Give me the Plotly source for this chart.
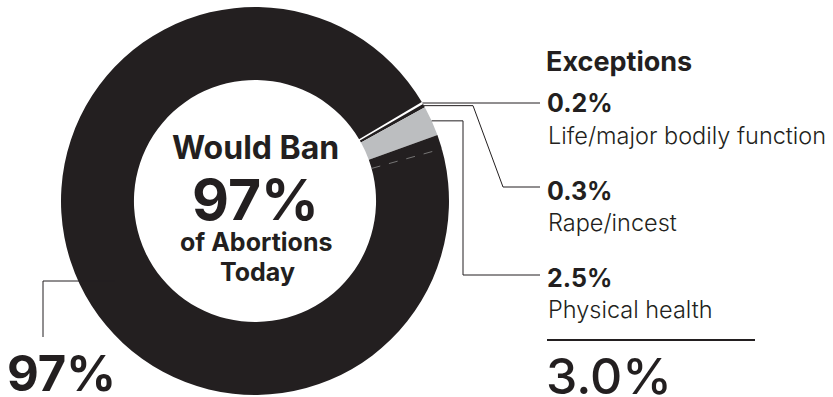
import math
import plotly.graph_objects as go

# ---------------- data ----------------
slice_labels = ["Life/major bodily function", "Rape/incest", "Physical health", "No exception"]
slice_values = [0.2, 0.3, 2.5, 97.0]
value_texts = ["0.2%", "0.3%", "2.5%"]
exception_names = ["Life/major bodily function", "Rape/incest", "Physical health"]
exceptions_total = "3.0%"
ban_share = "97%"
center_lines = ["Would Ban", "97%", "of Abortions", "Today"]

# ---------------- layout constants ----------------
W, H = 833, 397
CX, CY, R = 255, 201, 194
HOLE = 0.624
ROTATION = 59.3
SLICE_COLORS = ["#ffffff", "#231f20", "#bcbec0", "#231f20"]
INK = "#231f20"
FONT = "Inter"


def px(x):
    return x / W


def py(y):
    return 1 - y / H


fig = go.Figure(
    go.Pie(
        values=slice_values,
        labels=slice_labels,
        marker=dict(colors=SLICE_COLORS, line=dict(width=0)),
        hole=HOLE,
        sort=False,
        direction="clockwise",
        rotation=ROTATION,
        textinfo="none",
        hoverinfo="skip",
        showlegend=False,
        domain=dict(x=[px(CX - R), px(CX + R)], y=[py(CY + R), py(CY - R)]),
    )
)

# slice mid-angle points on the outer edge
total = sum(slice_values)
mids = []
cum = 0
for v in slice_values:
    a = math.radians(ROTATION + (cum + v / 2) / total * 360)
    mids.append((CX + R * math.sin(a), CY - R * math.cos(a)))
    cum += v

shapes = []


def path(points, width=1, color=INK, dash=None):
    d = "M " + " L ".join(f"{px(x)},{py(y)}" for x, y in points)
    line = dict(color=color, width=width)
    if dash:
        line["dash"] = dash
    shapes.append(dict(type="path", path=d, xref="paper", yref="paper", line=line))


LABEL_X = 540
# leader lines
x0, y0 = mids[0]
path([(x0, y0), (LABEL_X, y0)])
x1, y1 = mids[1]
path([(x1, y1), (473, y1), (503, 187), (LABEL_X, 187)])
x2, y2 = mids[2]
path([(x2, y2), (463, y2), (463, 275), (LABEL_X, 275)])
# 97% leader
path([(115, 281), (43, 281), (43, 337)])
# faint dashed divider in ring
ad = math.radians(90 - 15.6)
r_in = R * HOLE
path([(CX + r_in * math.sin(ad), CY - r_in * math.cos(ad)), (CX + R * math.sin(ad), CY - R * math.cos(ad))],
     width=0.8, color="#8a8a8a", dash="dash")
# rule above total
shapes.append(dict(type="line", xref="paper", yref="paper", x0=px(547), x1=px(755), y0=py(340), y1=py(340),
                   line=dict(color=INK, width=2)))

annotations = []


def text(t, x, y, size, weight=400, anchor="left", color=INK):
    annotations.append(dict(
        text=t,
        x=px(x), y=py(y), xref="paper", yref="paper",
        xanchor=anchor, yanchor="middle", showarrow=False,
        font=dict(family=FONT, size=size, color=color, weight=weight),
    ))


# center text
text(center_lines[0], 255, 147, 32, weight=700, anchor="center")
text(center_lines[1], 256, 199, 57, weight=700, anchor="center")
text(center_lines[2], 256, 242, 25, weight=700, anchor="center")
text(center_lines[3], 257, 272, 25, weight=700, anchor="center")

# left big number
text(ban_share, 5, 373, 49, weight=700)

# right side
text("Exceptions", 544, 61, 27, weight=700)
ys_val = [103, 191, 278]
ys_name = [135, 222, 309]
for v, n, yv, yn in zip(value_texts, exception_names, ys_val, ys_name):
    text(v, 545, yv, 25, weight=700)
    text(n, 546, yn, 23.5, weight=300)
text(exceptions_total, 544, 376, 50, weight=500)

fig.update_layout(
    width=W, height=H,
    margin=dict(l=0, r=0, t=0, b=0),
    paper_bgcolor="white", plot_bgcolor="white",
    shapes=shapes, annotations=annotations,
)

fig.write_html("out.html", config={"displayModeBar": False},
               post_script="document.body.style.margin='0';")
